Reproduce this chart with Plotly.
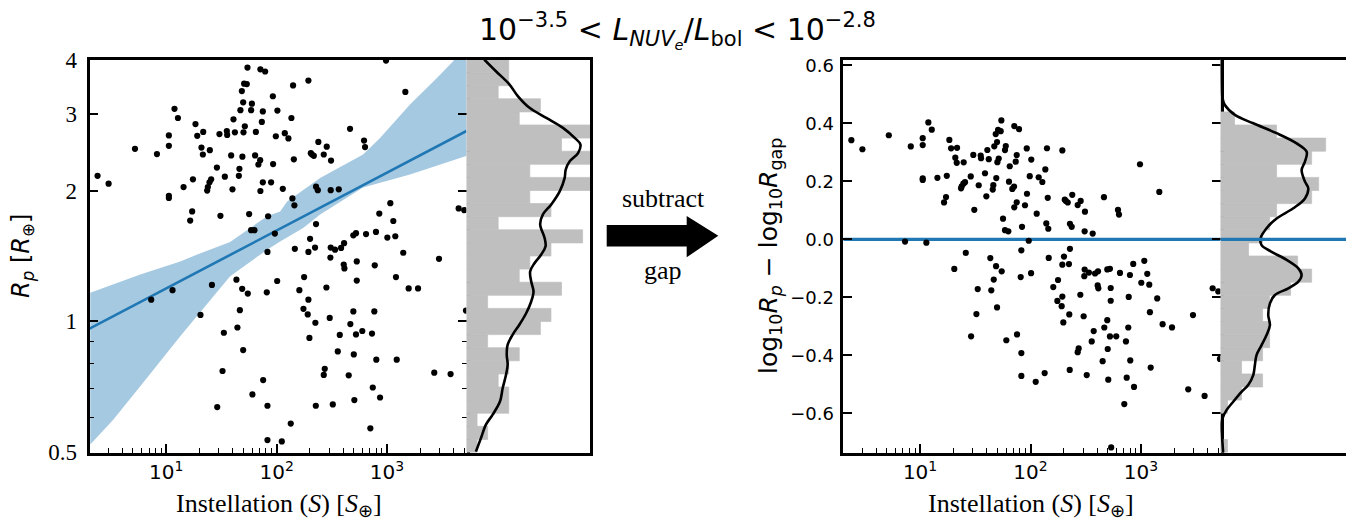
import numpy as np
import plotly.graph_objects as go

# ---------------- data ----------------
# log10 of instellation (S / S_earth) and log10 of planet radius (R / R_earth)
log10_instellation = [
    1.736, 1.853, 1.896, 1.706, 1.730, 1.685, 1.966, 1.697, 1.776, 1.075,
    1.672, 1.769, 1.875, 2.007, 1.106, 1.609, 1.866, 1.265, 1.712, 1.335,
    1.482, 1.549, 1.552, 1.622, 1.700, 1.812, 1.024, 1.281, 1.993, 1.024,
    0.717, 0.916, 1.319, 1.395, 1.332, 1.588, 1.690, 1.805, 1.851, 1.835,
    1.968, 1.459, 1.663, 0.378, 0.478, 1.242, 1.407, 1.392, 1.377, 1.371,
    1.531, 1.658, 1.875, 1.950, 1.157, 1.600, 1.853, 1.024, 1.024, 1.235,
    1.217, 1.491, 1.751, 1.923, 1.769, 1.799, 1.917, 2.991, 2.288, 2.149,
    3.166, 2.134, 2.665, 2.074, 2.107, 2.378, 2.454, 2.792, 2.801, 2.310,
    2.321, 2.337, 2.427, 2.156, 2.493, 2.056, 2.357, 2.373, 2.490, 2.563,
    2.143, 2.161, 3.030, 3.649, 3.700, 2.930, 3.057, 2.357, 1.984, 2.695,
    2.719, 2.810, 2.900, 3.003, 3.075, 2.303, 2.165, 2.288, 2.348, 2.490,
    2.529, 2.584, 2.611, 3.147, 0.864, 1.057, 1.414, 1.636, 1.688, 1.739,
    1.911, 2.005, 1.310, 1.667, 1.645, 1.522, 1.697, 1.510, 1.878, 1.781,
    1.462, 1.917, 1.917, 2.487, 3.471, 2.249, 2.206, 2.451, 2.288, 2.608,
    2.614, 2.726, 2.889, 2.726, 3.081, 3.196, 3.281, 2.243, 2.282, 2.351,
    2.481, 2.695, 2.885, 3.715, 2.297, 2.572, 2.668, 2.719, 2.776, 2.864,
    2.554, 2.699, 2.903, 3.088, 2.436, 2.427, 2.653, 3.428, 3.576, 2.871,
    2.937, 2.355, 2.509, 2.704, 2.128, 2.849, 2.047, 2.730,
]
log10_radius = [
    0.584, 0.580, 0.575, 0.547, 0.546, 0.530, 0.518, 0.504, 0.501, 0.489,
    0.486, 0.486, 0.483, 0.485, 0.468, 0.465, 0.459, 0.454, 0.449, 0.436,
    0.431, 0.438, 0.429, 0.435, 0.435, 0.436, 0.428, 0.427, 0.426, 0.404,
    0.397, 0.385, 0.400, 0.394, 0.384, 0.382, 0.379, 0.382, 0.371, 0.361,
    0.362, 0.354, 0.351, 0.335, 0.317, 0.327, 0.327, 0.320, 0.309, 0.301,
    0.333, 0.335, 0.320, 0.320, 0.309, 0.304, 0.300, 0.289, 0.284, 0.253,
    0.232, 0.243, 0.247, 0.242, 0.210, 0.210, 0.160, 0.600, 0.554, 0.543,
    0.528, 0.468, 0.443, 0.433, 0.421, 0.413, 0.402, 0.416, 0.401, 0.387,
    0.384, 0.381, 0.384, 0.373, 0.370, 0.305, 0.310, 0.302, 0.302, 0.304,
    0.283, 0.267, 0.272, 0.260, 0.256, 0.248, 0.231, 0.224, 0.202, 0.198,
    0.203, 0.201, 0.206, 0.193, 0.196, 0.190, 0.167, 0.160, 0.170, 0.170,
    0.165, 0.169, 0.180, 0.158, 0.050, 0.072, 0.084, 0.096, 0.075, 0.064,
    0.067, 0.093, 0.015, 0.026, -0.014, -0.026, -0.066, -0.114, -0.135, -0.168,
    -0.197, -0.194, -0.273, 0.147, 0.144, 0.102, 0.072, 0.078, 0.050, 0.131,
    0.122, 0.138, 0.129, 0.094, 0.102, 0.076, 0.076, 0.029, 0.016, -0.003,
    0.008, 0.023, 0.023, 0.025, -0.038, -0.031, -0.006, -0.030, -0.022, -0.028,
    -0.069, -0.076, -0.088, -0.088, -0.109, -0.123, -0.124, -0.118, -0.121, -0.152,
    -0.175, -0.194, -0.191, -0.181, -0.235, -0.246, -0.276, -0.411,
]

# radius-gap line: log10 R_gap = intercept + slope * log10 S
gap_slope = 0.1332
gap_intercept = -0.0573

# confidence band around the gap line (log10 S, log10 R)
band_upper_log_s = [0.312, 0.765, 1.127, 1.281, 1.579, 1.914, 2.032, 2.095, 2.394, 2.783, 2.937, 3.208, 3.452, 3.597, 3.724]
band_upper_log_r = [0.066, 0.108, 0.138, 0.154, 0.183, 0.242, 0.253, 0.276, 0.330, 0.384, 0.422, 0.499, 0.560, 0.598, 0.648]
band_lower_log_s = [0.312, 0.520, 0.765, 1.127, 1.579, 1.914, 2.032, 2.240, 2.394, 2.783, 3.208, 3.724]
band_lower_log_r = [-0.283, -0.226, -0.149, -0.034, 0.104, 0.165, 0.184, 0.215, 0.246, 0.308, 0.338, 0.381]

# histogram counts, bottom bin first (30 bins spanning each panel's y range)
hist_left_counts = [1, 2, 1, 4, 4, 3, 4, 5, 2, 7, 8, 2, 9, 5, 6, 8, 11, 3, 8, 6, 13, 6, 14, 9, 13, 5, 7, 3, 4, 4]
hist_right_counts = [1, 0, 0, 1, 3, 6, 3, 6, 7, 7, 6, 7, 10, 13, 11, 4, 6, 7, 8, 13, 14, 8, 13, 15, 8, 2, 0, 0, 0, 0]

# KDE curves (count scale, log10 R / residual)
kde_left_x = [1.68, 2.79, 4.06, 4.86, 5.97, 7.56, 9.14, 10.25, 10.79, 10.57, 9.78, 9.40, 9.30, 8.83, 8.03,
              7.24, 6.98, 7.40, 7.49, 7.08, 6.44, 6.03, 6.13, 6.35, 6.13, 5.65, 5.02, 4.38, 3.90, 3.81,
              3.90, 3.75, 3.43, 3.17, 2.48, 1.84, 1.37, 0.89]
kde_left_y = [0.602, 0.575, 0.545, 0.518, 0.491, 0.468, 0.445, 0.422, 0.407, 0.387, 0.368, 0.349, 0.330, 0.299, 0.269,
              0.246, 0.223, 0.192, 0.173, 0.154, 0.134, 0.115, 0.092, 0.069, 0.046, 0.019, -0.007, -0.030, -0.053, -0.076,
              -0.099, -0.122, -0.153, -0.184, -0.214, -0.237, -0.268, -0.299]
kde_right_x = [0.14, 0.14, 0.29, 0.62, 2.05, 4.67, 8.00, 10.86, 12.29, 12.05, 11.57, 12.05, 12.52, 12.05, 10.38,
               8.00, 6.57, 5.71, 5.86, 7.29, 9.43, 11.10, 11.57, 11.10, 9.67, 7.76, 7.05, 6.81, 7.05, 6.57,
               5.86, 5.14, 4.90, 4.67, 3.95, 3.00, 1.81, 0.86, 0.29, 0.10, 0.24, 0.38]
kde_right_y = [0.618, 0.567, 0.486, 0.463, 0.429, 0.400, 0.366, 0.331, 0.302, 0.268, 0.239, 0.199, 0.176, 0.141, 0.107,
               0.072, 0.038, 0.003, -0.020, -0.043, -0.071, -0.100, -0.123, -0.146, -0.169, -0.192, -0.221, -0.261, -0.296, -0.330,
               -0.365, -0.399, -0.434, -0.468, -0.502, -0.526, -0.560, -0.589, -0.617, -0.640, -0.686, -0.736]

x_log_range = [0.305, 3.72]
left_y_range = [np.log10(0.5) - 0.0005, np.log10(4) + 0.0005]
right_y_range = [-0.735, 0.62]
left_hist_max = 11.7
right_hist_max = 17.9

# ---------------- derived ----------------
logS = np.array(log10_instellation)
logR = np.array(log10_radius)
S = 10 ** logS
R = 10 ** logR
gap = gap_intercept + gap_slope * logS
resid = logR - gap

# page has an 8px body margin: lay out in page pixels, shifted into the figure
PAGE_W, PAGE_H, OFF = 1354, 523, 8
W, H = PAGE_W - OFF, PAGE_H - OFF
def fx(p):
    return (p - OFF) / W
def fy(p):
    return 1 - (p - OFF) / H

L_LEFT, L_MID, L_RIGHT = 89.5, 466.5, 590.0
R_LEFT, R_MID, R_RIGHT = 843.3, 1220.5, 1346.0
TOP, BOT = 59.5, 452.5

SERIF = "Liberation Serif"
SANS = "DejaVu Sans"
BLUE = "#1f77b4"
GRAY = "#bfbfbf"

fig = go.Figure()

# --- left scatter panel ---
band_x = [10 ** v for v in band_upper_log_s] + [10 ** v for v in band_lower_log_s[::-1]]
band_y = [10 ** v for v in band_upper_log_r] + [10 ** v for v in band_lower_log_r[::-1]]
fig.add_trace(go.Scatter(x=band_x, y=band_y, fill="toself", mode="lines", line=dict(width=0),
                         fillcolor="rgba(31,119,180,0.4)", xaxis="x", yaxis="y", hoverinfo="skip"))
line_x = np.array(x_log_range)
fig.add_trace(go.Scatter(x=10 ** line_x, y=10 ** (gap_intercept + gap_slope * line_x), mode="lines",
                         line=dict(color=BLUE, width=2.6), xaxis="x", yaxis="y"))
fig.add_trace(go.Scatter(x=S, y=R, mode="markers", marker=dict(color="black", size=6.2),
                         xaxis="x", yaxis="y"))

# --- left histogram ---
lo = np.log10(0.5)
bw_l = (np.log10(4) - np.log10(0.5)) / len(hist_left_counts)
centers_l = lo + bw_l * (np.arange(len(hist_left_counts)) + 0.5)
fig.add_trace(go.Bar(x=hist_left_counts, y=centers_l, orientation="h", width=bw_l,
                     marker=dict(color=GRAY, line=dict(width=0.7, color=GRAY)), xaxis="x2", yaxis="y2"))
fig.add_trace(go.Scatter(x=kde_left_x, y=kde_left_y, mode="lines", line=dict(color="black", width=2.6, shape="spline"),
                         xaxis="x2", yaxis="y2"))

# --- right scatter panel ---
fig.add_trace(go.Scatter(x=10 ** line_x, y=[0, 0], mode="lines", line=dict(color=BLUE, width=3.2),
                         xaxis="x3", yaxis="y3"))
fig.add_trace(go.Scatter(x=S, y=resid, mode="markers", marker=dict(color="black", size=6.2),
                         xaxis="x3", yaxis="y3"))

# --- right histogram ---
bw_r = (right_y_range[1] - right_y_range[0]) / len(hist_right_counts)
centers_r = right_y_range[0] + bw_r * (np.arange(len(hist_right_counts)) + 0.5)
fig.add_trace(go.Bar(x=hist_right_counts, y=centers_r, orientation="h", width=bw_r,
                     marker=dict(color=GRAY, line=dict(width=0.7, color=GRAY)), xaxis="x4", yaxis="y4"))
fig.add_trace(go.Scatter(x=kde_right_x, y=kde_right_y, mode="lines", line=dict(color="black", width=2.6, shape="spline"),
                         xaxis="x4", yaxis="y4"))
fig.add_trace(go.Scatter(x=[0, right_hist_max], y=[0, 0], mode="lines", line=dict(color=BLUE, width=3.2),
                         xaxis="x4", yaxis="y4"))

spine = dict(showline=True, linecolor="black", linewidth=2.6, showgrid=False, zeroline=False, automargin=False)
xmajor = [10, 100, 1000]
xminor = [v * d for d in (1, 10, 100, 1000) for v in range(2, 10) if 10 ** x_log_range[0] < v * d < 10 ** x_log_range[1]]
xaxis_common = dict(type="log", range=x_log_range, tickmode="array", tickvals=xmajor,
                    ticktext=["10<sup>1</sup>", "10<sup>2</sup>", "10<sup>3</sup>"],
                    ticks="inside", ticklen=9, tickwidth=1.8, tickcolor="black", mirror=True,
                    tickfont=dict(family=SANS, size=20, color="black"),
                    minor=dict(tickmode="array", tickvals=xminor, ticks="inside", ticklen=5, tickwidth=1.2, tickcolor="black"),
                    **spine)
hist_x = dict(showticklabels=False, ticks="", mirror=True, **spine)
hist_y = dict(showticklabels=False, ticks="", side="right", mirror=False, **spine)

fig.update_layout(
    width=W, height=H, margin=dict(l=0, r=0, t=0, b=0, autoexpand=False),
    paper_bgcolor="white", plot_bgcolor="white", showlegend=False, barmode="overlay",
    xaxis=dict(domain=[fx(L_LEFT), fx(L_MID)], anchor="y", **xaxis_common),
    yaxis=dict(domain=[fy(BOT), fy(TOP)], anchor="x", type="log", range=left_y_range,
               tickmode="array", tickvals=[0.5, 1, 2, 3, 4], ticktext=["0.5", "1", "2", "3", "4"],
               ticks="inside", ticklen=9, tickwidth=1.8, tickcolor="black", mirror="ticks",
               tickfont=dict(family=SERIF, size=23, color="black"), ticklabelstandoff=5,
               minor=dict(tickmode="array", tickvals=[0.6, 0.7, 0.8, 0.9], ticks="inside", ticklen=5, tickwidth=1.2, tickcolor="black"),
               **spine),
    xaxis2=dict(domain=[fx(L_MID), fx(L_RIGHT)], anchor="y2", range=[0, left_hist_max], **hist_x),
    yaxis2=dict(domain=[fy(BOT), fy(TOP)], anchor="x2", range=[np.log10(0.5), np.log10(4)], **hist_y),
    xaxis3=dict(domain=[fx(R_LEFT), fx(R_MID)], anchor="y3", **xaxis_common),
    yaxis3=dict(domain=[fy(BOT), fy(TOP)], anchor="x3", range=right_y_range,
                tickmode="array", tickvals=[-0.6, -0.4, -0.2, 0.0, 0.2, 0.4, 0.6],
                ticktext=["\u22120.6", "\u22120.4", "\u22120.2", "0.0", "0.2", "0.4", "0.6"],
                ticks="inside", ticklen=9, tickwidth=1.8, tickcolor="black", mirror="ticks",
                tickfont=dict(family=SANS, size=18, color="black"), ticklabelstandoff=3, **spine),
    xaxis4=dict(domain=[fx(R_MID), fx(R_RIGHT)], anchor="y4", range=[0, right_hist_max], **hist_x),
    yaxis4=dict(domain=[fy(BOT), fy(TOP)], anchor="x4", range=right_y_range, **hist_y),
)

# arrow between panels
pts = [(606.7, 225), (686.7, 225), (686.7, 216), (718.3, 235.8), (686.7, 257.3), (686.7, 246.5), (606.7, 246.5)]
path = "M " + " L ".join(f"{fx(a):.5f},{fy(b):.5f}" for a, b in pts) + " Z"
fig.add_shape(type="path", xref="paper", yref="paper", path=path, fillcolor="black", line=dict(width=0))

ann = []
def add_text(text, x, y, size, family, angle=0):
    ann.append(dict(text=text, x=fx(x), y=fy(y), xref="paper", yref="paper", showarrow=False,
                    xanchor="center", yanchor="middle", textangle=angle,
                    font=dict(family=family, size=size, color="black")))

add_text("10<sup>\u22123.5</sup> &lt; <i>L</i><sub><i>NUV<sub>e</sub></i></sub>/<i>L</i><sub>bol</sub> &lt; 10<sup>\u22122.8</sup>",
         677, 30, 30, SANS)
add_text("Instellation (<i>S</i>) [<i>S</i><sub>\u2295</sub>]", 279, 505, 26, SERIF)
add_text("Instellation (<i>S</i>) [<i>S</i><sub>\u2295</sub>]", 1031, 505, 26, SERIF)
add_text("<i>R</i><sub><i>p</i></sub> [<i>R</i><sub>\u2295</sub>]", 22, 256, 24, SANS, -90)
add_text("log<sub>10</sub><i>R</i><sub><i>p</i></sub> \u2212 log<sub>10</sub><i>R</i><sub>gap</sub>", 770, 256, 25, SANS, -90)
add_text("subtract", 663, 198, 26, SERIF)
add_text("gap", 662.5, 270, 26, SERIF)
fig.update_layout(annotations=ann)

fig.write_html("out.html")
